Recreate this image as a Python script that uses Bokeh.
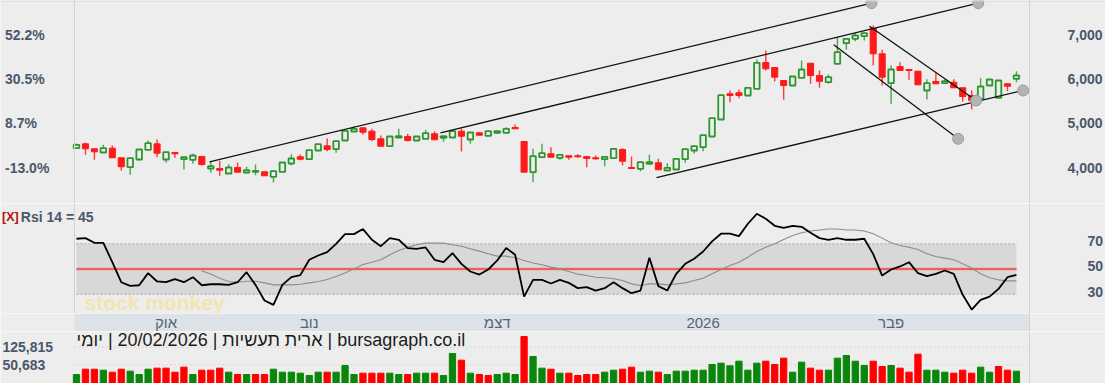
import math
from bokeh.plotting import figure
from bokeh.layouts import column
from bokeh.models import Range1d, Span, Label
from bokeh.embed import file_html
from bokeh.resources import INLINE
from bokeh.core.properties import value

# ---------------- data ----------------
opens = [4442, 4541, 4429, 4345, 4442, 4226, 4014, 4187, 4406, 4541,
         4187, 4345, 4194, 4181, 4255, 3984, 3984, 3871, 4007, 3894,
         3910, 3910, 3797, 3910, 4097, 4248, 4194, 4390, 4496, 4420,
         4616, 4819, 4902, 4826, 4654, 4487, 4684, 4706, 4616, 4654,
         4767, 4677, 4684, 4826, 4638, 4789, 4722, 4789, 4789, 4909,
         4593, 3901, 4239, 4316, 4226, 4271, 4271, 4255, 4226, 4194,
         4217, 4413, 4007, 3977, 4090, 4113, 3939, 3962, 4194, 4390,
         4465, 4706, 5089, 5669, 5692, 5631, 5782, 6375, 6262, 5969,
         5856, 6030, 6359, 6082, 5931, 6346, 6811, 6910, 6968, 7150,
         6571, 5908, 6285, 6217, 6179, 5744, 5947, 5908, 5931, 5805,
         5631, 5556, 5856, 5579, 5895, 6008]
highs = [4548, 4571, 4435, 4519, 4503, 4232, 4217, 4413, 4616, 4638,
         4352, 4345, 4255, 4316, 4255, 4149, 4158, 4081, 4120, 4023,
         4075, 3916, 3923, 4120, 4307, 4300, 4397, 4532, 4661, 4600,
         4835, 4938, 4902, 4880, 4729, 4706, 4880, 4767, 4706, 4857,
         4826, 4713, 4826, 4880, 4796, 4796, 4826, 4830, 4916, 4977,
         4593, 4429, 4541, 4465, 4293, 4271, 4307, 4255, 4277, 4248,
         4429, 4442, 4255, 4149, 4300, 4203, 4104, 4203, 4420, 4487,
         4735, 5119, 5638, 5744, 5766, 5805, 6443, 6646, 6262, 5969,
         6059, 6420, 6359, 6195, 6105, 6946, 6910, 7045, 7036, 7210,
         6662, 6308, 6382, 6217, 6179, 5998, 6156, 5998, 5998, 5805,
         5744, 6021, 5992, 5969, 5895, 6179]
lows = [4424, 4293, 4181, 4345, 4226, 3939, 3842, 4187, 4406, 4239,
        4113, 4226, 3962, 4090, 4052, 3887, 3820, 3871, 3901, 3871,
        3833, 3820, 3668, 3910, 4059, 4172, 4194, 4390, 4374, 4338,
        4616, 4819, 4745, 4600, 4487, 4487, 4684, 4593, 4616, 4654,
        4632, 4587, 4684, 4368, 4541, 4730, 4722, 4767, 4789, 4880,
        3901, 3675, 4239, 4239, 4181, 4181, 4226, 4014, 4181, 4036,
        4217, 4052, 3984, 3923, 4090, 3955, 3939, 3962, 4113, 4316,
        4374, 4706, 5089, 5480, 5570, 5631, 5782, 6195, 5947, 5534,
        5856, 6030, 5895, 5805, 5895, 6346, 6662, 6856, 6871, 6308,
        5856, 5444, 6195, 5985, 5872, 5541, 5895, 5908, 5805, 5496,
        5315, 5556, 5856, 5579, 5728, 5931]
closes = [4519, 4429, 4361, 4442, 4226, 4023, 4217, 4413, 4555, 4329,
          4352, 4316, 4239, 4277, 4075, 4036, 3946, 4007, 3901, 3946,
          3932, 3820, 3923, 4120, 4210, 4194, 4397, 4532, 4413, 4600,
          4835, 4880, 4803, 4638, 4487, 4706, 4713, 4616, 4706, 4781,
          4632, 4713, 4826, 4713, 4796, 4735, 4826, 4826, 4880, 4880,
          3901, 4262, 4329, 4239, 4293, 4239, 4248, 4210, 4203, 4248,
          4429, 4149, 3984, 4126, 4126, 3955, 4000, 4203, 4420, 4487,
          4735, 5119, 5638, 5631, 5631, 5805, 6368, 6233, 6044, 5856,
          6059, 6217, 6082, 5953, 6044, 6608, 6910, 6984, 7036, 6571,
          6044, 6217, 6195, 6195, 5872, 5908, 5895, 5953, 5805, 5608,
          5518, 5834, 5992, 5969, 5841, 6082]
volumes = [30700, 40400, 40400, 38400, 34600, 40400, 36500, 30700, 40400, 42600,
           42600, 34600, 44900, 30700, 38400, 38400, 42600, 34600, 30700, 30700,
           30700, 30700, 40400, 34600, 34600, 32900, 29200, 34600, 34600, 34600,
           48900, 30700, 32900, 32900, 32900, 32900, 30700, 30700, 32900, 32900,
           32900, 29200, 90900, 64400, 32900, 30700, 29200, 30700, 32900, 30700,
           218600, 77800, 42600, 40400, 32900, 32900, 29200, 30700, 30700, 34600,
           38400, 40400, 44900, 34600, 36500, 34600, 30700, 36500, 36500, 38400,
           38400, 51500, 55100, 48100, 61100, 38400, 55100, 61100, 51500, 71400,
           34600, 58100, 42600, 38400, 38400, 71400, 81900, 61100, 48900, 61100,
           46400, 48900, 42600, 34600, 87800, 38400, 38400, 34600, 32900, 38400,
           32900, 44900, 34600, 46400, 38400, 36500]
volume_up = [1, 0, 0, 1, 0, 0, 1, 1, 1, 0,
             0, 0, 0, 1, 0, 0, 0, 1, 0, 1,
             0, 0, 1, 1, 1, 1, 1, 1, 0, 1,
             1, 1, 0, 0, 0, 1, 1, 0, 1, 1,
             0, 1, 1, 0, 1, 0, 0, 1, 1, 1,
             0, 1, 1, 0, 1, 0, 0, 0, 0, 1,
             1, 0, 0, 1, 1, 0, 1, 1, 1, 1,
             1, 1, 1, 1, 1, 1, 1, 0, 0, 0,
             1, 1, 0, 0, 1, 1, 1, 1, 1, 0,
             0, 1, 0, 0, 0, 1, 1, 1, 0, 0,
             0, 1, 1, 0, 0, 1]
rsi14 = [74.0, 74.5, 70.8, 70.8, 55.4, 39.5, 36.6, 37.1, 46.7, 40.1,
         39.5, 41.9, 39.5, 43.5, 37.1, 37.9, 37.9, 37.4, 39.5, 47.5,
         37.4, 25.0, 21.5, 37.4, 43.5, 45.1, 57.3, 60.7, 63.4, 70.0,
         77.7, 77.7, 81.7, 73.2, 68.1, 74.5, 73.2, 66.6, 66.0, 67.1,
         57.3, 55.4, 62.6, 54.1, 48.0, 45.6, 49.6, 56.8, 66.6, 61.3,
         28.1, 41.4, 41.4, 38.5, 41.4, 39.0, 34.8, 35.6, 32.9, 34.8,
         39.5, 34.8, 30.8, 32.9, 58.9, 36.4, 32.9, 46.2, 54.1, 58.1,
         63.9, 71.9, 78.0, 78.0, 76.1, 85.9, 93.8, 89.9, 84.3, 82.7,
         84.3, 83.5, 78.7, 74.5, 73.2, 74.5, 73.2, 73.2, 74.0, 61.8,
         44.8, 49.6, 52.0, 55.4, 46.7, 44.3, 46.2, 48.8, 46.2, 29.5,
         17.8, 25.5, 28.1, 34.2, 43.5, 45.4]
rsi_ma_start = 14
rsi_ma = [48.5, 46.0, 42.7, 40.1, 39.5, 40.3, 40.3, 39.0, 37.4, 37.4,
          37.4, 37.9, 39.0, 40.1, 41.7, 44.0, 46.9, 50.1, 53.6, 55.4,
          57.3, 61.3, 64.7, 67.3, 69.2, 70.5, 70.5, 70.5, 69.2, 68.1,
          66.0, 64.2, 62.1, 60.2, 60.2, 58.9, 56.8, 54.8, 53.4, 51.5,
          50.1, 48.0, 45.9, 44.8, 43.5, 43.0, 42.2, 40.9, 38.2, 36.9,
          38.2, 38.2, 37.4, 38.2, 39.0, 40.9, 42.7, 46.2, 49.6, 52.8,
          55.4, 59.4, 63.9, 67.3, 70.0, 73.4, 76.6, 78.7, 80.1, 80.9,
          81.7, 81.7, 80.9, 80.9, 80.1, 77.9, 74.5, 70.8, 68.7, 67.3,
          65.5, 62.1, 59.9, 58.6, 57.3, 54.1, 50.7, 46.2, 43.0, 41.4,
          40.6, 40.6]
price_ticks = [4000, 5000, 6000, 7000]
pct_labels = ["-13.0%", "8.7%", "30.5%", "52.2%"]
rsi_ticks = [30, 50, 70]
vol_ticks = [50683, 125815]
vol_labels = ["50,683", "125,815"]
month_pos = [10, 26, 47, 70, 91]
month_labels = ["אוק", "נוב", "דצמ", "2026", "פבר"]
# drawn trend lines (start / end, in bar index and price)
trend_x0 = [14.86, 40.66, 64.79, 88.58, 84.59]
trend_y0 = [4135, 4790, 3781, 7194, 6774]
trend_x1 = [88.81, 100.73, 105.75, 100.50, 98.49]
trend_y1 = [7713, 7713, 5744, 5518, 4654]
title_text = "bursagraph.co.il | ארית תעשיות | 20/02/2026 | יומי"

# ---------------- layout constants ----------------
W = 1105
FL, FR = 74, 1029            # pixel extent of the chart area
PXS, PXE = -0.223, 106.46    # bar-index extent of the chart area
SC = (PXE - PXS) / (FR - FL)
XS = PXS - FL * SC
XE = PXS + (W - FL) * SC
BG = "#ededed"
FONT = "Liberation Sans"
AX = "#4a576a"
GREEN = "#2f962f"
RED = "#ff1a1a"
LINEC = "#d2d2d2"


def xd(px):
    return PXS + (px - FL) * SC


def ylin(local, ys, ye, h):
    return ye - local * (ye - ys) / h


def ylog(local, ys, ye, h):
    a, b = math.log10(ys), math.log10(ye)
    return 10 ** (b - local * (b - a) / h)


xr = Range1d(XS, XE)


def make_fig(h, yr, **kw):
    p = figure(width=W, height=h, x_range=xr, y_range=yr, output_backend="svg",
               toolbar_location=None, title=None, x_axis_location=None, y_axis_location=None,
               min_border_left=0, min_border_right=0, min_border_top=0, min_border_bottom=0,
               background_fill_color=BG, border_fill_color=BG, outline_line_color=None, **kw)
    p.grid.visible = False
    return p


def lab(p, x, y, text, size="14px", color=AX, style="bold", **kw):
    p.add_layout(Label(x=x, y=y, text=text, text_align=kw.pop("align", "left"),
                       text_baseline="middle", text_font=FONT, text_font_size=size,
                       text_font_style=style, text_color=color, **kw))


def frame_lines(p, left=True, right=True):
    if left:
        p.add_layout(Span(location=PXS, dimension="height", line_color=LINEC, line_width=1))
    if right:
        p.add_layout(Span(location=PXE, dimension="height", line_color=LINEC, line_width=1))


xs = list(range(len(opens)))

# ---------------- price panel ----------------
H1 = 203
Y1S, Y1E = 3194.8, 7773.7
p1 = make_fig(H1, Range1d(Y1S, Y1E))
frame_lines(p1)
p1.add_layout(Span(location=ylin(0.5, Y1S, Y1E, H1), dimension="width", line_color=LINEC, line_width=1))

up_c = [c >= o for o, c in zip(opens, closes)]
wick_col = [GREEN if u else RED for u in up_c]
p1.segment(x0=xs, y0=highs, x1=xs, y1=lows, line_color=wick_col, line_width=1.4, line_alpha=0.85)
g = [i for i in xs if up_c[i]]
r = [i for i in xs if not up_c[i]]
p1.vbar(x=g, width=0.62, top=[closes[i] for i in g], bottom=[opens[i] for i in g],
        fill_color=BG, line_color=GREEN, line_width=1.8)
p1.vbar(x=r, width=0.68, top=[opens[i] for i in r], bottom=[closes[i] for i in r],
        fill_color=RED, line_color=RED, line_width=1)
p1.segment(x0=trend_x0, y0=trend_y0, x1=trend_x1, y1=trend_y1, line_color="#111111", line_width=1.3)
p1.scatter(x=trend_x1, y=trend_y1, size=11, fill_color="#b4b4b4", line_color="#9c9c9c", line_width=1)

for pv, pl in zip(price_ticks, pct_labels):
    lab(p1, xd(4.5), pv, pl)
    lab(p1, xd(1067), pv, f"{pv:,}")

# ---------------- RSI panel ----------------
H2 = 110
Y2S, Y2E = 14.68, 101.98
p2 = make_fig(H2, Range1d(Y2S, Y2E))
frame_lines(p2)
p2.add_layout(Label(x=xd(84), y=ylin(99, Y2S, Y2E, H2), text="stock monkey", text_align="left",
                    text_baseline="middle", text_font=FONT, text_font_size="21px", text_font_style="bold",
                    text_color="#f2e4b0", level="underlay"))
p2.quad(left=[xs[0]], right=[xs[-1]], bottom=[rsi_ticks[0]], top=[rsi_ticks[-1]],
        fill_color="#d8d8d8", line_color=None)
p2.segment(x0=[xs[0]] * 2, x1=[xs[-1]] * 2, y0=[rsi_ticks[0], rsi_ticks[-1]], y1=[rsi_ticks[0], rsi_ticks[-1]],
           line_color="#a9a9a9", line_dash="2 2", line_width=1)
p2.line([xs[0], xs[-1]], [rsi_ticks[1]] * 2, line_color="#f2a4a4", line_width=3)
p2.line([xs[0], xs[-1]], [rsi_ticks[1]] * 2, line_color="#e81c1c", line_width=1.2)
p2.line(list(range(rsi_ma_start, rsi_ma_start + len(rsi_ma))), rsi_ma, line_color="#8c8c8c", line_width=1.1)
p2.line(xs, rsi14, line_color="#000000", line_width=1.8)

for t in rsi_ticks:
    lab(p2, xd(1087), t + 2.0, str(t))
yl = ylin(13.3, Y2S, Y2E, H2)
lab(p2, xd(1.5), yl, "[X]", size="12.5px", color="#b0140f")
lab(p2, xd(20.3), yl, "Rsi 14 = %d" % round(rsi14[-1]))

# ---------------- month band ----------------
H3 = 18
p3 = make_fig(H3, Range1d(0, 1))
p3.quad(left=[PXS], right=[PXE], bottom=[0], top=[1], fill_color="#dde2e9", line_color=None)
p3.text(x=month_pos, y=[0.5] * len(month_pos), text=month_labels, text_align="center",
        text_baseline="middle", text_font=value(FONT), text_font_size="15px", text_color="#56637a")
frame_lines(p3, left=False)

# ---------------- volume panel ----------------
H4 = 52
Y4S, Y4E = 19290, 283100
p4 = make_fig(H4, Range1d(Y4S, Y4E), y_axis_type="log")
for vt in vol_ticks:
    p4.segment(x0=[PXS], x1=[PXE], y0=[vt], y1=[vt], line_color="#c6c6c6", line_dash="1 3", line_width=1)
vcol = ["#0a870a" if u else "#ff0000" for u in volume_up]
p4.vbar(x=xs, width=0.7, top=volumes, bottom=Y4S, fill_color=vcol, line_color=vcol)
for vt, vl in zip(vol_ticks, vol_labels):
    lab(p4, xd(2), vt, vl)
lab(p4, xd(76), ylog(8.0, Y4S, Y4E, H4), "\u202b" + title_text + "\u202c",
    size="18px", color="#1c1c1c", style="normal")
frame_lines(p4, left=False)

layout = column(p1, p2, p3, p4)
open("out.html", "w").write(file_html(layout, INLINE))
